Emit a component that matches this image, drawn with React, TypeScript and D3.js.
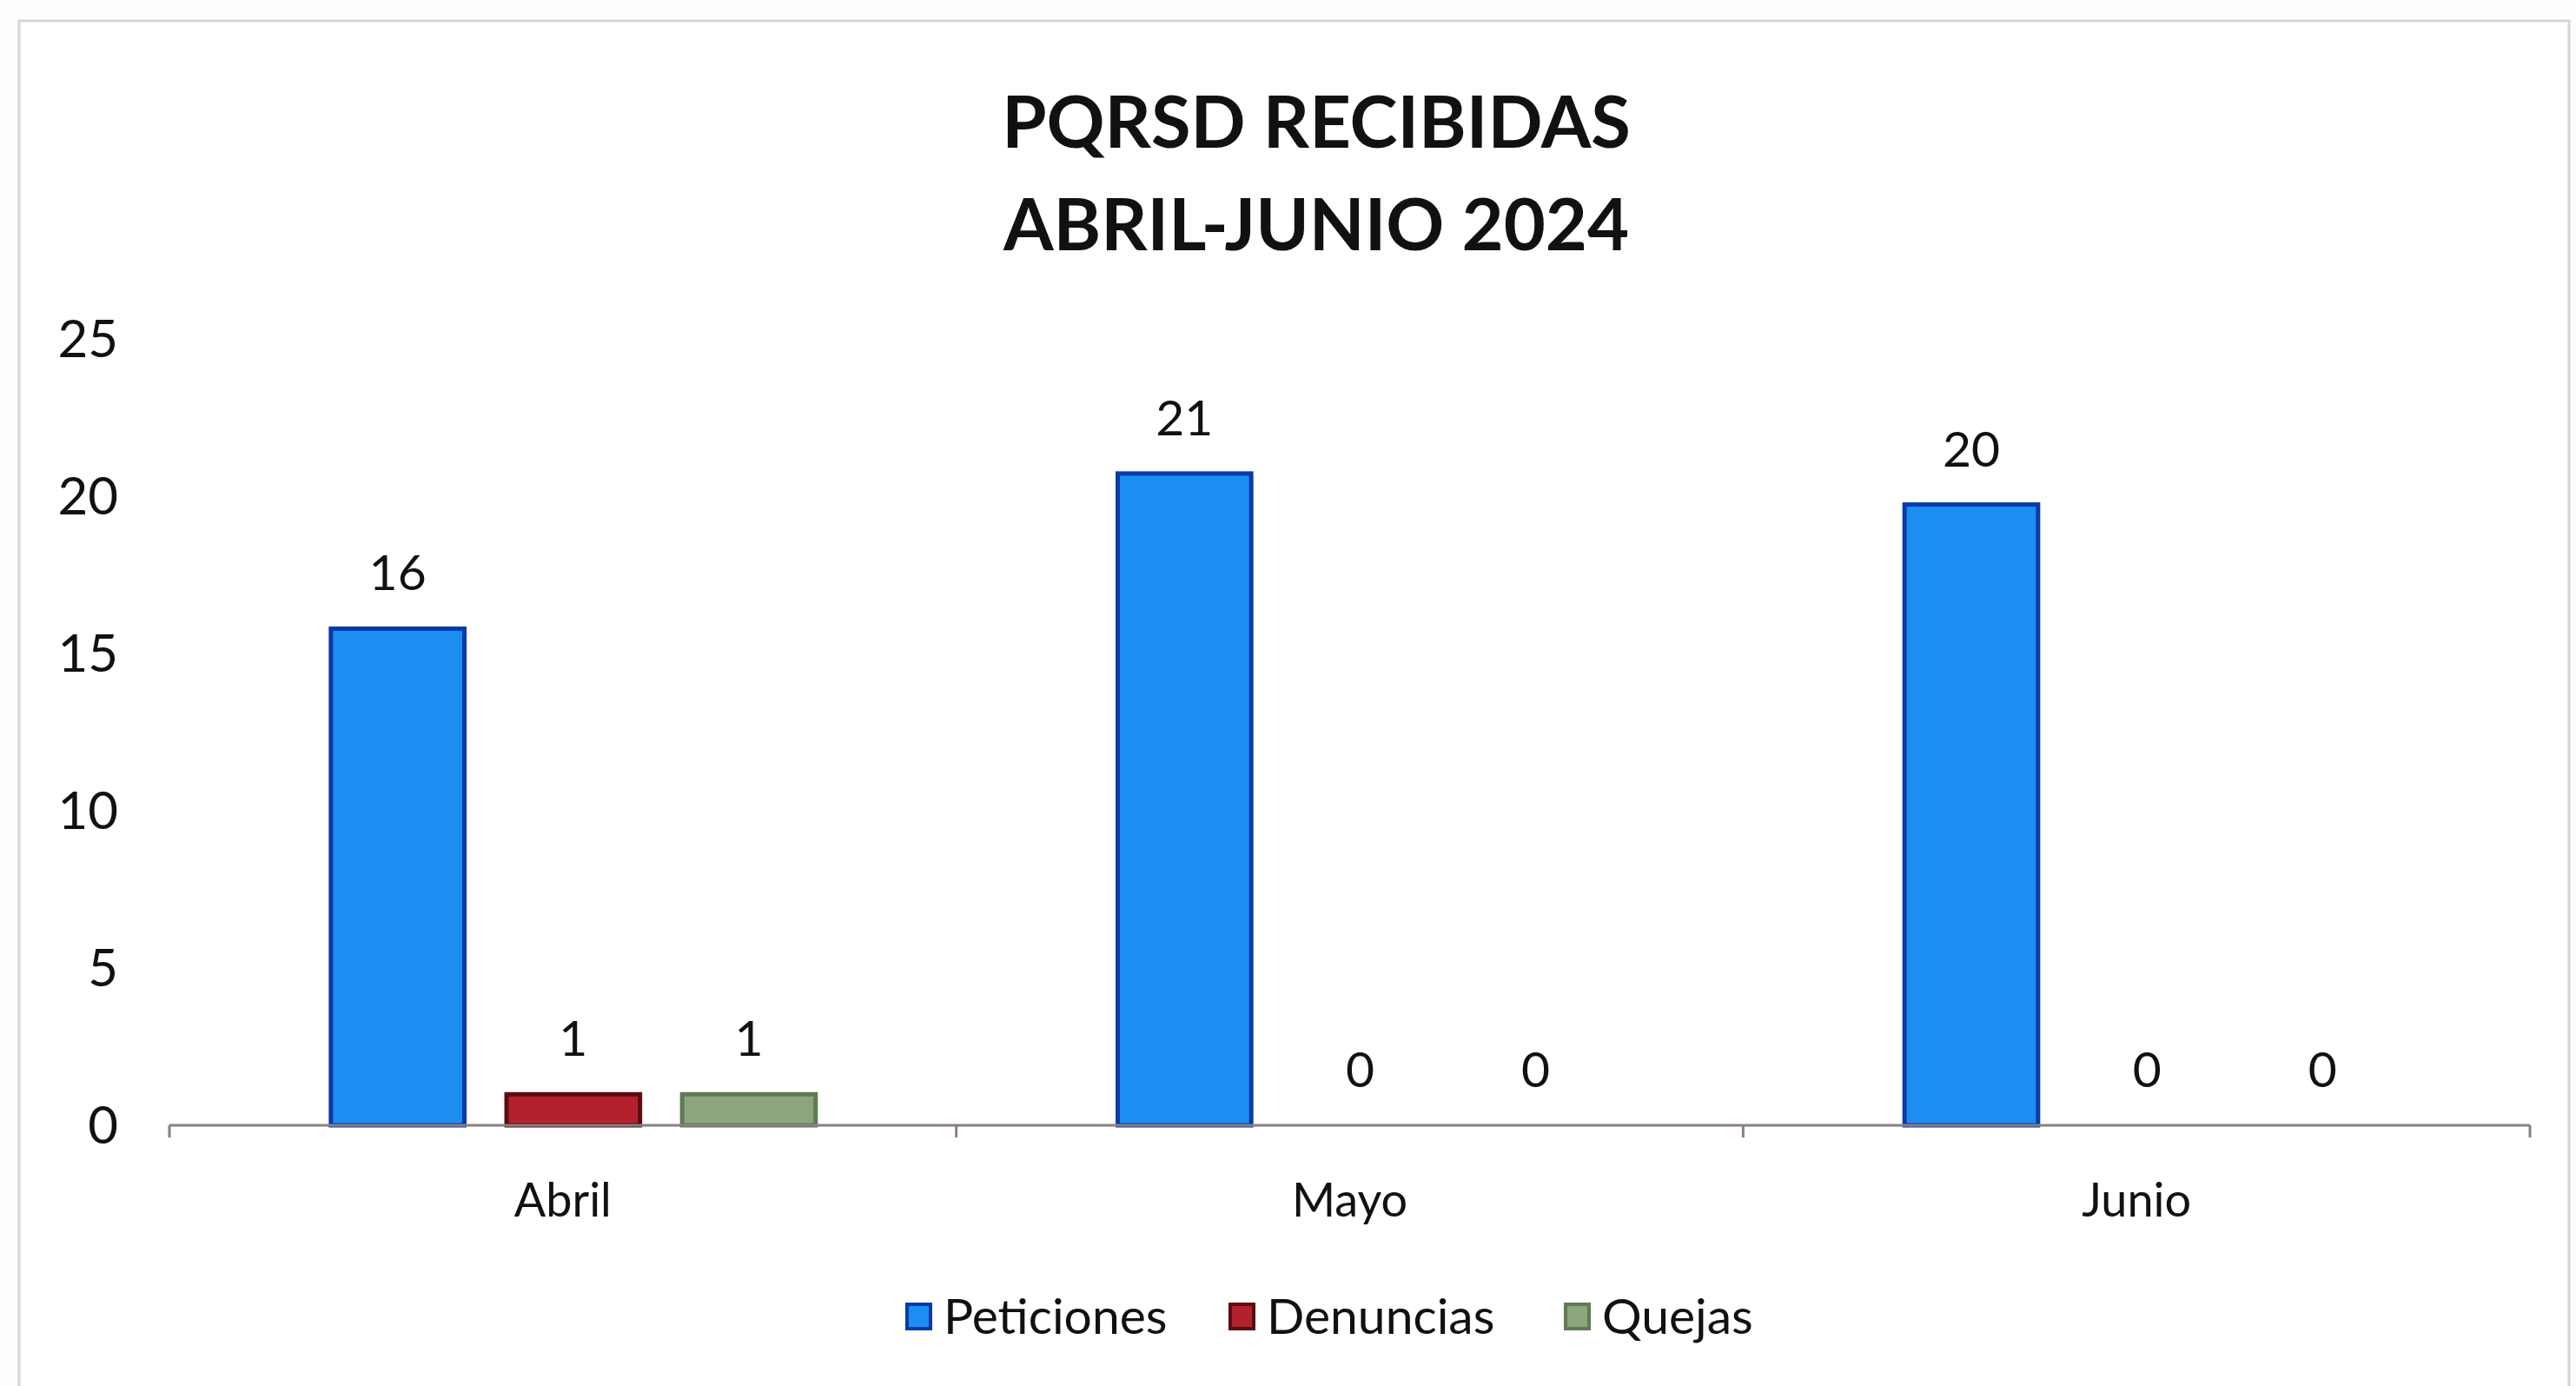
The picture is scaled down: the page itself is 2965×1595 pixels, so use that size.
import React from "react";
import * as d3 from "d3";

const months = ["Abril", "Mayo", "Junio"];
const seriesNames = ["Peticiones", "Denuncias", "Quejas"];
const peticiones = [16, 21, 20];
const denuncias = [1, 0, 0];
const quejas = [1, 0, 0];
const yTicks = [0, 5, 10, 15, 20, 25];
const titleLines = ["PQRSD RECIBIDAS", "ABRIL-JUNIO 2024"];

const fills = ["#1c8ef2", "#b3222c", "#8ba57c"];
const strokes = ["#0b3aa8", "#5a0d12", "#5f7a55"];

const W = 2965;
const H = 1595;
const FONT = "Lato, 'Open Sans', sans-serif";

export default function App() {
  const values = [peticiones, denuncias, quejas];
  const rows = months.map((m, i) => ({
    month: m,
    vals: seriesNames.map((s, j) => ({ name: s, idx: j, value: values[j][i] })),
  }));

  const left = 195;
  const right = 2912;
  const top = 402;
  const bottom = 1295;

  const x0 = d3.scaleBand<string>().domain(months).range([left, right]);
  // bars sit a little right of the band centre in the original
  const x1 = d3
    .scaleBand<string>()
    .domain(seriesNames)
    .range([12, x0.bandwidth() + 12])
    .paddingInner(0.24)
    .paddingOuter(0.86);
  const y = d3.scaleLinear().domain([0, 25]).range([bottom, top]);

  const boundaries = [left, ...months.map((m) => (x0(m) ?? 0) + x0.bandwidth())];

  const legendX = [1044, 1416, 1802];

  return (
    <svg
      width={W}
      height={H}
      style={{ position: "absolute", left: 0, top: 0, display: "block", background: "#fff" }}
      fontFamily={FONT}
    >
      <rect x={0} y={0} width={W} height={H} fill="#fdfdfc" />
      <rect x={22} y={24} width={W - 30} height={H + 10} fill="#fff" stroke="#d8d4d4" strokeWidth={3} />

      {titleLines.map((t, i) => (
        <text
          key={t}
          x={1515}
          y={170 + i * 118}
          textAnchor="middle"
          fontSize={83}
          fontWeight={700}
          fill="#111"
        >
          {t}
        </text>
      ))}

      {/* y tick labels */}
      {yTicks.map((t) => (
        <text key={t} x={136} y={y(t) - t * 0.5} dy="0.35em" textAnchor="end" fontSize={60} fill="#111">
          {t}
        </text>
      ))}

      {/* bars */}
      {rows.map((r) => (
        <g key={r.month} transform={`translate(${x0(r.month)},0)`}>
          {r.vals.map((v) => (
            <g key={v.name}>
              {v.value > 0 && (
                <rect
                  x={x1(v.name)}
                  y={y(v.value)}
                  width={x1.bandwidth()}
                  height={y(0) - y(v.value)}
                  fill={fills[v.idx]}
                  stroke={strokes[v.idx]}
                  strokeWidth={5}
                />
              )}
              <text
                x={(x1(v.name) ?? 0) + x1.bandwidth() / 2}
                y={y(v.value) - 44}
                textAnchor="middle"
                fontSize={57}
                fill="#111"
              >
                {v.value}
              </text>
            </g>
          ))}
          <text
            x={x0.bandwidth() / 2}
            y={1400}
            textAnchor="middle"
            fontSize={54}
            fill="#111"
          >
            {r.month}
          </text>
        </g>
      ))}

      {/* x axis */}
      <line x1={left} x2={right} y1={bottom} y2={bottom} stroke="#8a8080" strokeWidth={3} />
      {boundaries.map((b, i) => (
        <line key={i} x1={b} x2={b} y1={bottom} y2={bottom + 14} stroke="#8a8080" strokeWidth={3} />
      ))}

      {/* legend */}
      {seriesNames.map((s, i) => (
        <g key={s} transform={`translate(${legendX[i]},1515)`}>
          <rect x={0} y={-14} width={27} height={28} fill={fills[i]} stroke={strokes[i]} strokeWidth={4} />
          <text x={42} y={0} dy="0.35em" fontSize={57} fill="#111">
            {s}
          </text>
        </g>
      ))}
    </svg>
  );
}
